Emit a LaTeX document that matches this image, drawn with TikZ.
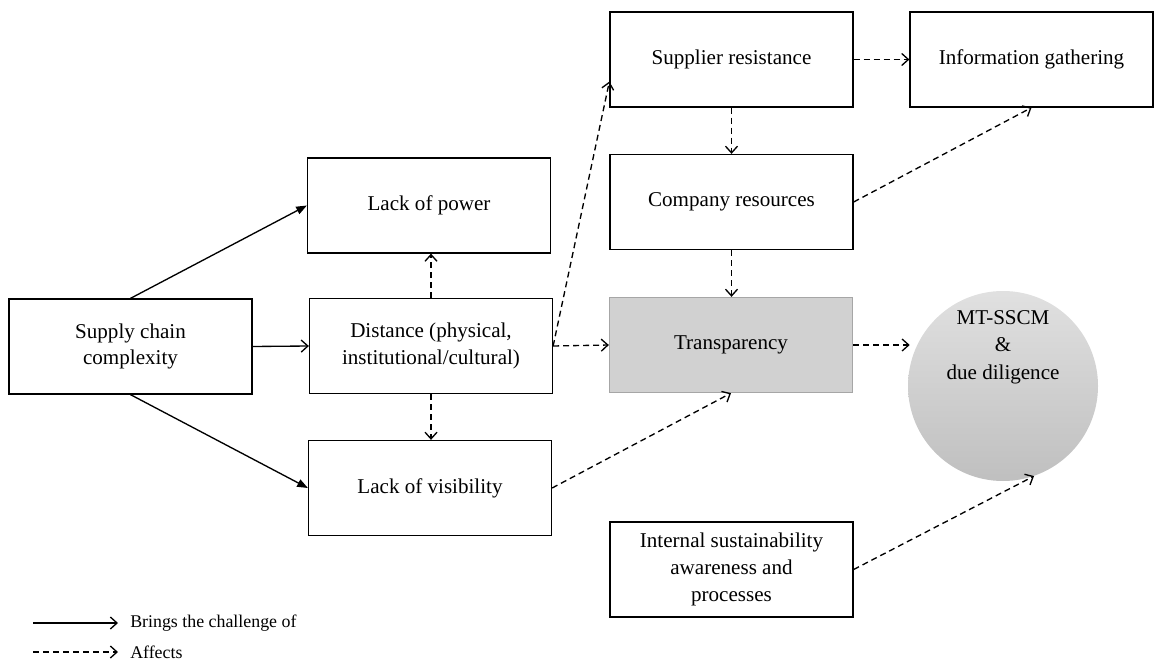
\documentclass[tikz,border=0pt]{standalone}
\usepackage{fontspec}
\setmainfont{Liberation Serif}
\usetikzlibrary{arrows.meta,calc}
\begin{document}
\begin{tikzpicture}[x=0.75pt,y=-0.75pt,
  box/.style={draw,line width=1.2pt,minimum width=182pt,minimum height=71pt,
    inner sep=2pt,align=center,font=\fontsize{15.8}{20}\selectfont},
  greybox/.style={box,fill=black!18,draw=black!35},
  solidarr/.style={line width=1pt,-{Triangle[length=8pt,width=6pt]}},
  openarr/.style={line width=1pt,-{Straight Barb[length=5pt,width=9pt,line width=1pt]}},
  dasharr/.style={line width=1pt,dash pattern=on 4.5pt off 3pt,
    -{Straight Barb[length=5pt,width=9pt,line width=1pt]}},
  legendtext/.style={anchor=west,inner sep=0pt,font=\fontsize{13.4}{16}\selectfont}]
\useasboundingbox (0,0) rectangle (1155,666);

% boxes
\node[box] (scc) at (130.5,346.5) {Supply chain\\complexity};
\node[box] (power) at (429,205.5) {Lack of power};
\node[box] (dist) at (431,346) {Distance (physical,\\institutional/cultural)};
\node[box] (vis) at (430,488) {Lack of visibility};
\node[box] (sr) at (731.5,59.5) {Supplier resistance};
\node[box] (ig) at (1031.5,59.5) {Information gathering};
\node[box] (cr) at (731.5,202) {Company resources};
\node[greybox] (tr) at (731,345) {Transparency};
\node[box] (isa) at (731.5,569.5) {Internal sustainability\\awareness and\\processes};

% outcome circle
\node[circle,minimum size=142.5pt,inner sep=0pt,top color=black!12,bottom color=black!25] (mt) at (1003,386) {};
\node[align=center,font=\fontsize{15.8}{20.5}\selectfont] (mttext) at (1003,347) {MT-SSCM\\\&\\due diligence};

% challenges brought by complexity
\draw[solidarr] (scc.north) -- (power.west);
\draw[solidarr] (scc.south) -- (vis.west);
\draw[openarr] (scc.east) -- (dist.west);

% effects
\draw[dasharr] (dist.north) -- (dist.north |- power.south);
\draw[dasharr] (dist.south) -- (dist.south |- vis.north);
\draw[dasharr] (dist.east) -- ($(sr.south west)!0.5!(sr.west)+(0,-2)$);
\draw[dasharr] (dist.east) -- (tr.west);
\draw[dasharr] (sr.east) -- (ig.west);
\draw[dasharr] (sr.south) -- (cr.north);
\draw[dasharr] (cr.east) -- (ig.south);
\draw[dasharr] (cr.south) -- (cr.south |- tr.north);
\draw[dasharr] (vis.east) -- (tr.south);
\draw[dasharr] (tr.east) -- ($(tr.east -| mt.west)+(2,0)$);
\draw[dasharr] (isa.east) -- (mt.-71);

% legend
\coordinate (la) at (33,623);
\coordinate (lb) at (118,623);
\coordinate (lc) at (33,652);
\coordinate (ld) at (118,652);
\draw[openarr] (la) -- (lb);
\draw[dasharr] (lc) -- (ld);
\node[legendtext] (lt1) at (130,623) {Brings the challenge of};
\node[legendtext] (lt2) at (130,652) {Affects};
\end{tikzpicture}
\end{document}
